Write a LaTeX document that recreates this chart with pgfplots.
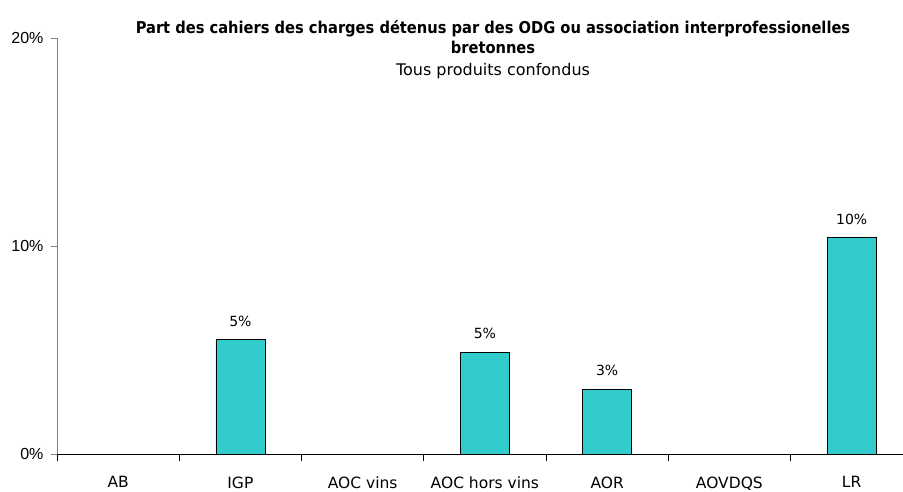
\documentclass[border=0pt]{standalone}
\usepackage{fontspec}
\setmainfont{DejaVu Sans}
\newfontfamily\condbold{DejaVu Sans Condensed Bold}
\newfontfamily\arialfont{Liberation Sans}
\usepackage{pgfplots}
\pgfplotsset{compat=1.18}
\definecolor{barc}{HTML}{33CCCC}
\begin{document}
\begin{tikzpicture}[x=1pt,y=1pt]
\path[use as bounding box] (-57,-37) rectangle (846,454);
\begin{axis}[at={(0,0)}, anchor=south west, scale only axis,
  width=846pt, height=416pt,
  xmin=-0.5, xmax=6.42, ymin=0, ymax=20,
  axis x line*=bottom, axis y line*=left,
  x axis line style={black, line width=0.8pt},
  y axis line style={gray, line width=0.8pt},
  xtick={0,...,6},
  xticklabels={AB,IGP,AOC vins,AOC hors vins,AOR,AOVDQS,LR},
  major x tick style={draw=none},
  minor xtick={-0.5,0.5,...,5.5},
  minor x tick style={black, line width=0.8pt},
  minor tick length=7pt,
  ytick={0,10,20},
  yticklabels={0\%,10\%,20\%},
  ytick style={gray, line width=0.8pt},
  major tick length=6pt,
  tick align=outside,
  /pgf/number format/assume math mode=true,
  xticklabel style={font=\fontsize{15.5}{18}\selectfont, yshift=-13pt},
  yticklabel style={font=\arialfont\fontsize{16}{18}\selectfont, xshift=-4pt},
  clip=false,
]
\addplot[ybar, bar width=49pt, fill=barc, draw=black, line width=0.7pt,
  point meta=explicit symbolic,
  nodes near coords,
  every node near coord/.append style={font=\fontsize{14}{16}\selectfont, anchor=south, inner sep=0pt, yshift=13pt}]
  coordinates {(1,5.5) [5\%] (3,4.9) [5\%] (4,3.1) [3\%] (6,10.4) [10\%]};
\end{axis}
\node[font=\condbold\fontsize{16.3}{18}\selectfont] at (436,425) {Part des cahiers des charges détenus par des ODG ou association interprofessionelles};
\node[font=\condbold\fontsize{16.3}{18}\selectfont] at (436,407) {bretonnes};
\node[font=\fontsize{16}{18}\selectfont] at (436,383) {Tous produits confondus};
\end{tikzpicture}
\end{document}
